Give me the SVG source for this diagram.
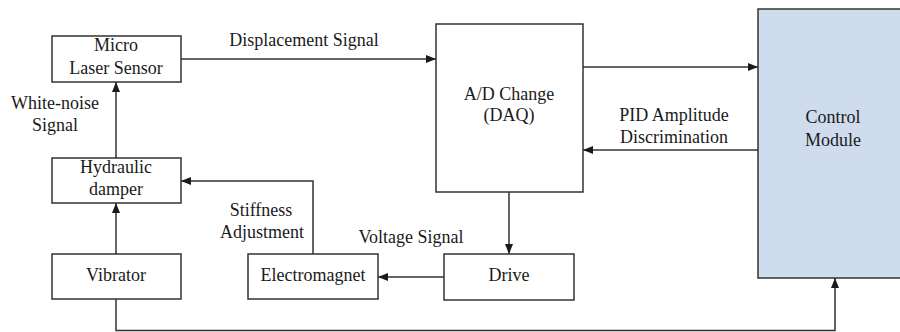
<svg xmlns="http://www.w3.org/2000/svg" width="900" height="332" viewBox="0 0 900 332">
<defs>
<marker id="ah" markerWidth="10" markerHeight="8" refX="10" refY="4" orient="auto" markerUnits="userSpaceOnUse">
<path d="M0,0 L10,4 L0,8 Z" fill="#1a1a1a"/>
</marker>
<style>
.box{fill:#fff;stroke:#333;stroke-width:1.5}
.cm{fill:#cfdcee;stroke:#333;stroke-width:1.5}
.arr{fill:none;stroke:#333;stroke-width:1.5;marker-end:url(#ah)}
.t{font-family:'Liberation Serif','Times New Roman',serif;font-size:18px;fill:#1a1a1a}
.c{text-anchor:middle}
</style>
</defs>
<rect width="900" height="332" fill="#fff"/>
<g id="connectors">
<line class="arr" x1="181" y1="59" x2="436" y2="59"/>
<line class="arr" x1="116" y1="158" x2="116" y2="82"/>
<line class="arr" x1="116" y1="254" x2="116" y2="203"/>
<polyline class="arr" points="313,254 313,181 181,181"/>
<line class="arr" x1="444" y1="277" x2="378" y2="277"/>
<line class="arr" x1="509" y1="192" x2="509" y2="254"/>
<line class="arr" x1="583" y1="67" x2="758" y2="67"/>
<line class="arr" x1="758" y1="150" x2="583" y2="150"/>
<polyline class="arr" points="116,299 116,330.5 835,330.5 835,278"/>
</g>
<g id="labels" class="t">
<text class="c" x="304" y="46">Displacement Signal</text>
<text class="c" x="55" y="109">White-noise</text>
<text class="c" x="55" y="131">Signal</text>
<text class="c" x="261" y="216">Stiffness</text>
<text class="c" x="262" y="238">Adjustment</text>
<text class="c" x="411" y="243">Voltage Signal</text>
<text class="c" x="674" y="121">PID Amplitude</text>
<text class="c" x="674" y="143">Discrimination</text>
</g>
<g id="sensor" class="t">
<rect class="box" x="52" y="36" width="129" height="46"/>
<text class="c" x="116" y="51">Micro</text>
<text class="c" x="116" y="74">Laser Sensor</text>
</g>
<g id="damper" class="t">
<rect class="box" x="52" y="158" width="129" height="45"/>
<text class="c" x="116" y="173">Hydraulic</text>
<text class="c" x="116" y="195">damper</text>
</g>
<g id="vibrator" class="t">
<rect class="box" x="52" y="254" width="129" height="45"/>
<text class="c" x="116" y="281">Vibrator</text>
</g>
<g id="electromagnet" class="t">
<rect class="box" x="248" y="254" width="130" height="45"/>
<text class="c" x="313" y="281">Electromagnet</text>
</g>
<g id="drive" class="t">
<rect class="box" x="444" y="254" width="130" height="46"/>
<text class="c" x="509" y="281">Drive</text>
</g>
<g id="daq" class="t">
<rect class="box" x="436" y="24" width="147" height="168"/>
<text class="c" x="509" y="100">A/D Change</text>
<text class="c" x="509" y="121">(DAQ)</text>
</g>
<g id="control" class="t">
<rect class="cm" x="758" y="9" width="150" height="269"/>
<text class="c" x="833" y="123">Control</text>
<text class="c" x="833" y="146">Module</text>
</g>
</svg>
